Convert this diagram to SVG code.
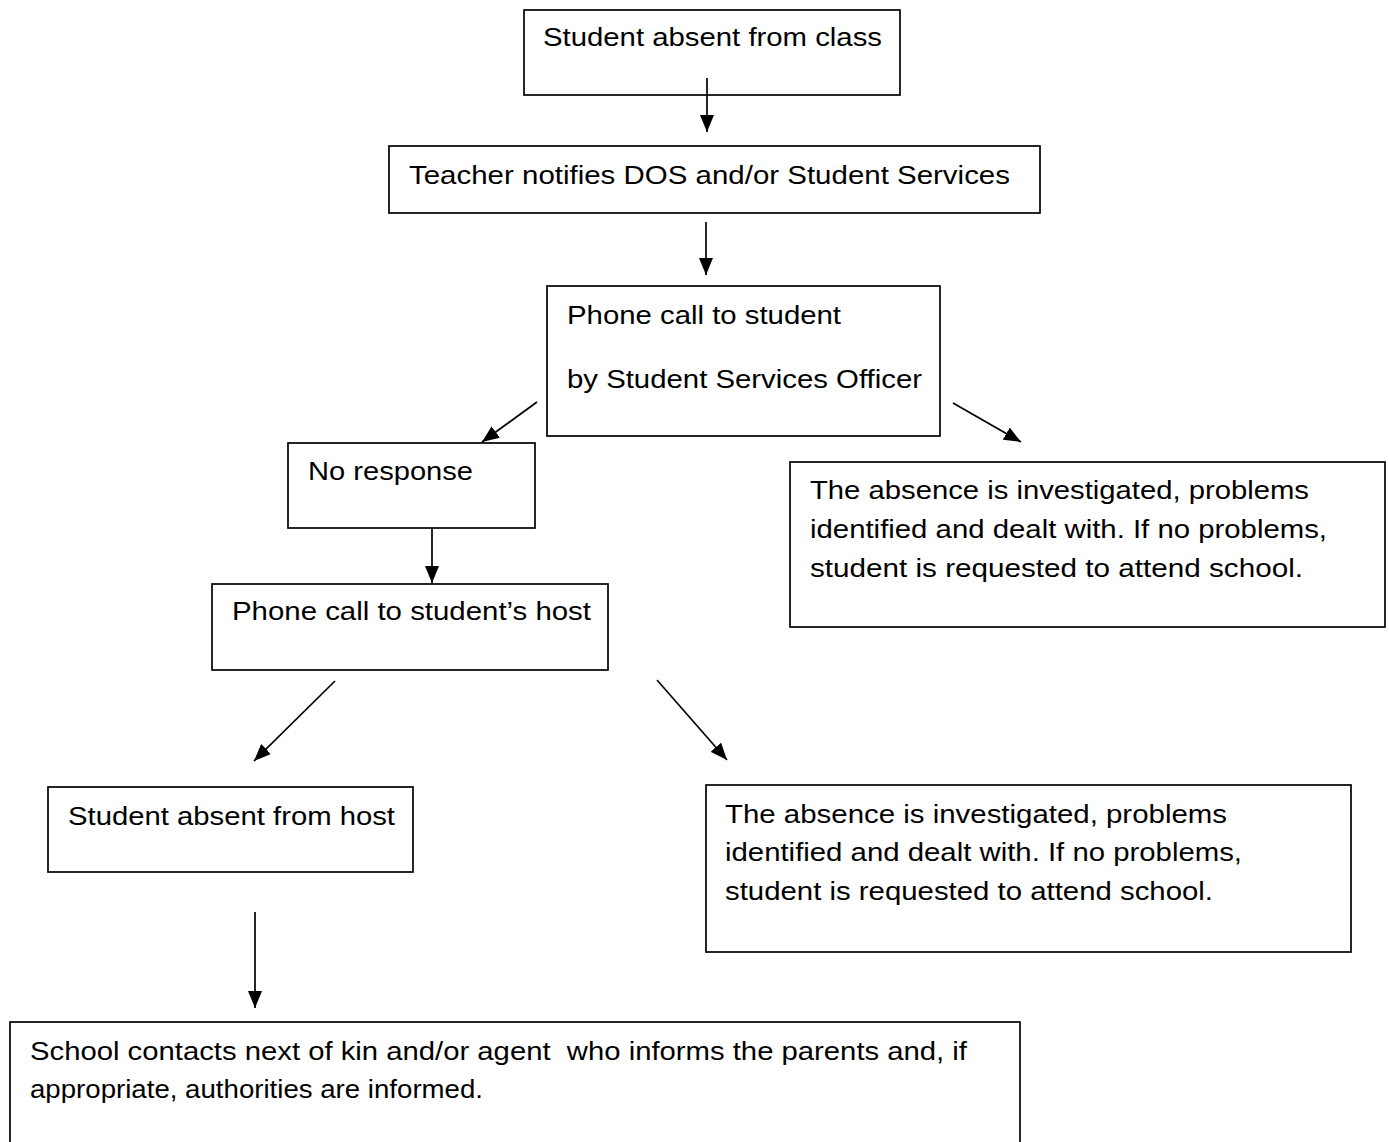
<svg xmlns="http://www.w3.org/2000/svg" width="1389" height="1142" viewBox="0 0 1389 1142">
<style>
.box{fill:#fff;stroke:#000;stroke-width:1.7}
.t{font-family:"Liberation Sans",Arial,sans-serif;font-size:26.5px;fill:#000;white-space:pre}
.c{stroke:#000;stroke-width:1.7;fill:none;marker-end:url(#ah)}
</style>
<defs>
<marker id="ah" viewBox="0 0 17 14" refX="17" refY="7" markerWidth="17" markerHeight="14" markerUnits="userSpaceOnUse" orient="auto">
<path d="M0,0 L17,7 L0,14 Z" fill="#000"/>
</marker>
</defs>
<rect width="1389" height="1142" fill="#fff"/>
<g id="n1"><rect class="box" x="524" y="10" width="376" height="85"/>
<text class="t" x="543" y="46" textLength="339" lengthAdjust="spacingAndGlyphs">Student absent from class</text></g>
<g id="n2"><rect class="box" x="389" y="146" width="651" height="67"/>
<text class="t" x="409" y="184" textLength="601" lengthAdjust="spacingAndGlyphs">Teacher notifies DOS and/or Student Services</text></g>
<g id="n3"><rect class="box" x="547" y="286" width="393" height="150"/>
<text class="t" x="567" y="324" textLength="274" lengthAdjust="spacingAndGlyphs">Phone call to student</text>
<text class="t" x="567" y="388" textLength="355" lengthAdjust="spacingAndGlyphs">by Student Services Officer</text></g>
<g id="n4"><rect class="box" x="288" y="443" width="247" height="85"/>
<text class="t" x="308" y="480" textLength="165" lengthAdjust="spacingAndGlyphs">No response</text></g>
<g id="n5"><rect class="box" x="212" y="584" width="396" height="86"/>
<text class="t" x="232" y="620" textLength="359" lengthAdjust="spacingAndGlyphs">Phone call to student’s host</text></g>
<g id="n6"><rect class="box" x="790" y="462" width="595" height="165"/>
<text class="t" x="810" y="499" textLength="499" lengthAdjust="spacingAndGlyphs">The absence is investigated, problems</text>
<text class="t" x="810" y="538" textLength="517" lengthAdjust="spacingAndGlyphs">identified and dealt with. If no problems,</text>
<text class="t" x="810" y="577" textLength="493" lengthAdjust="spacingAndGlyphs">student is requested to attend school.</text></g>
<g id="n7"><rect class="box" x="48" y="787" width="365" height="85"/>
<text class="t" x="68" y="825" textLength="327" lengthAdjust="spacingAndGlyphs">Student absent from host</text></g>
<g id="n8"><rect class="box" x="706" y="785" width="645" height="167"/>
<text class="t" x="725" y="823" textLength="502" lengthAdjust="spacingAndGlyphs">The absence is investigated, problems</text>
<text class="t" x="725" y="861" textLength="517" lengthAdjust="spacingAndGlyphs">identified and dealt with. If no problems,</text>
<text class="t" x="725" y="900" textLength="488" lengthAdjust="spacingAndGlyphs">student is requested to attend school.</text></g>
<g id="n9"><rect class="box" x="10" y="1022" width="1010" height="130"/>
<text class="t" x="30" y="1060" textLength="937" lengthAdjust="spacingAndGlyphs">School contacts next of kin and/or agent  who informs the parents and, if</text>
<text class="t" x="30" y="1098" textLength="453" lengthAdjust="spacingAndGlyphs">appropriate, authorities are informed.</text></g>
<g id="connectors">
<line class="c" x1="707" y1="78" x2="707" y2="132"/>
<line class="c" x1="706" y1="222" x2="706" y2="275"/>
<line class="c" x1="537" y1="402" x2="482" y2="442"/>
<line class="c" x1="953" y1="403" x2="1021" y2="442"/>
<line class="c" x1="432" y1="528" x2="432" y2="583"/>
<line class="c" x1="335" y1="681" x2="254" y2="761"/>
<line class="c" x1="657" y1="680" x2="727" y2="760"/>
<line class="c" x1="255" y1="912" x2="255" y2="1008"/>
</g>
</svg>
